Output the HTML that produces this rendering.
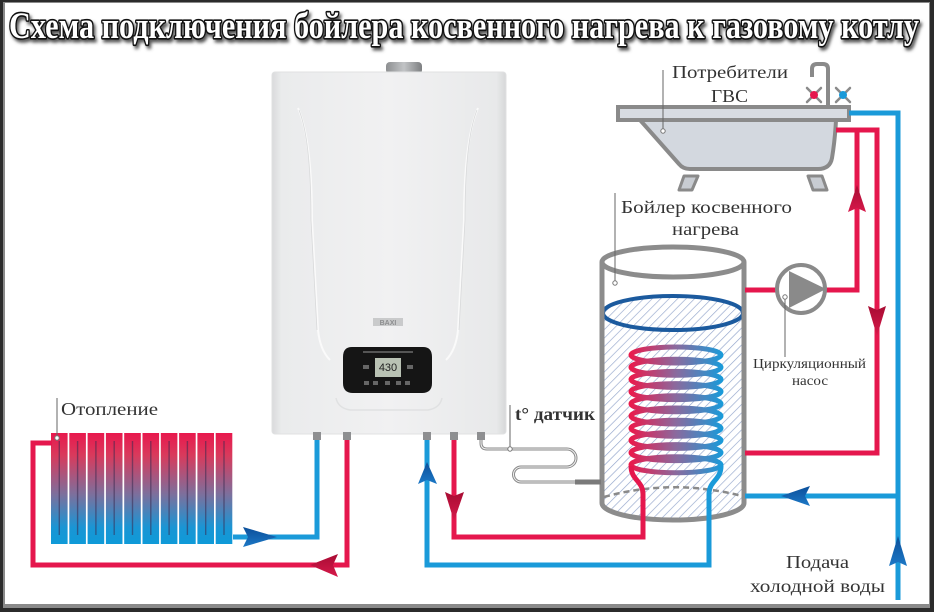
<!DOCTYPE html>
<html><head><meta charset="utf-8">
<style>
html,body{margin:0;padding:0;background:#2b2b2b;}
body{width:934px;height:612px;overflow:hidden;position:relative;}
svg{position:absolute;left:0;top:0;}
</style></head>
<body>
<svg width="934" height="612" viewBox="0 0 934 612" xmlns="http://www.w3.org/2000/svg">
<defs>
  <linearGradient id="rad" x1="0" y1="433" x2="0" y2="544" gradientUnits="userSpaceOnUse">
    <stop offset="0" stop-color="#e8184d"/>
    <stop offset="0.2" stop-color="#d93a5c"/>
    <stop offset="0.55" stop-color="#7d6f9c"/>
    <stop offset="0.85" stop-color="#1a95d4"/>
    <stop offset="1" stop-color="#0f9ad8"/>
  </linearGradient>
  <linearGradient id="coil" x1="630" y1="0" x2="722" y2="0" gradientUnits="userSpaceOnUse">
    <stop offset="0" stop-color="#ea1a4c"/>
    <stop offset="0.5" stop-color="#8a6a9e"/>
    <stop offset="1" stop-color="#1a9ad9"/>
  </linearGradient>
  <linearGradient id="boil" x1="0" y1="0" x2="1" y2="0">
    <stop offset="0" stop-color="#d9dadb"/>
    <stop offset="0.04" stop-color="#eaebec"/>
    <stop offset="0.5" stop-color="#f1f1f2"/>
    <stop offset="0.96" stop-color="#e8e9ea"/>
    <stop offset="1" stop-color="#d6d7d8"/>
  </linearGradient>
  <linearGradient id="chim" x1="0" y1="0" x2="1" y2="0">
    <stop offset="0" stop-color="#8d8f91"/>
    <stop offset="0.5" stop-color="#c2c4c6"/>
    <stop offset="1" stop-color="#7d7f81"/>
  </linearGradient>
  <linearGradient id="ab" x1="0" y1="0" x2="0" y2="1">
    <stop offset="0" stop-color="#0b4f9a"/>
    <stop offset="1" stop-color="#1c78c6"/>
  </linearGradient>
  <linearGradient id="ar" x1="0" y1="0" x2="0" y2="1">
    <stop offset="0" stop-color="#a80c33"/>
    <stop offset="1" stop-color="#d6194a"/>
  </linearGradient>
  <pattern id="hatch" width="6" height="6" patternUnits="userSpaceOnUse" patternTransform="rotate(45)">
    <rect width="6" height="6" fill="#ffffff"/>
    <line x1="0" y1="0" x2="0" y2="6" stroke="#93a5cc" stroke-width="1.3"/>
  </pattern>
  <filter id="blur" x="-5%" y="-30%" width="110%" height="160%"><feGaussianBlur stdDeviation="1.6"/></filter>
</defs>

<!-- frame -->
<rect x="0" y="0" width="934" height="612" fill="#2b2b2b"/>
<rect x="3" y="2" width="927" height="606" fill="#8a8a8a"/>
<rect x="5" y="3" width="924" height="601" fill="#ffffff"/>

<!-- title -->
<text x="11" y="41" textLength="910" lengthAdjust="spacingAndGlyphs" font-family="Liberation Serif, serif" font-weight="bold" font-size="37" fill="#555" stroke="#555" stroke-width="3" filter="url(#blur)">Схема подключения бойлера косвенного нагрева к газовому котлу</text>
<text x="9" y="38" textLength="910" lengthAdjust="spacingAndGlyphs" font-family="Liberation Serif, serif" font-weight="bold" font-size="37" fill="#ffffff" stroke="#111" stroke-width="3.2" paint-order="stroke" stroke-linejoin="round">Схема подключения бойлера косвенного нагрева к газовому котлу</text>

<!-- boiler -->
<rect x="386" y="62" width="36" height="12" rx="4" fill="url(#chim)"/>
<rect x="272" y="72" width="234" height="362" rx="3" fill="url(#boil)" stroke="#e0e1e2" stroke-width="1"/>
<path d="M298,108 Q312,140 312,220 L318,330 Q320,350 330,360" fill="none" stroke="#fafafa" stroke-width="2"/>
<path d="M299,110 Q311,140 311,220 L317,330" fill="none" stroke="#d8d9da" stroke-width="0.8"/>
<path d="M478,108 Q464,140 464,220 L458,330 Q456,350 446,360" fill="none" stroke="#fafafa" stroke-width="2"/>
<path d="M477,110 Q465,140 465,220 L459,330" fill="none" stroke="#d8d9da" stroke-width="0.8"/>
<path d="M336,398 Q338,408 350,410 L428,410 Q440,408 442,398" fill="none" stroke="#e0e1e2" stroke-width="1.5"/>
<rect x="373" y="318" width="30" height="8" fill="#c9cacb"/>
<text x="388" y="325" text-anchor="middle" font-family="Liberation Sans, sans-serif" font-size="7" font-weight="bold" fill="#8d8e90">BAXI</text>
<path d="M352,347 L423,347 Q432,347 432,357 L432,383 Q432,393 422,393 L353,393 Q343,393 343,383 L343,357 Q343,347 352,347 Z" fill="#151515"/>
<rect x="363" y="351" width="50" height="2" fill="#555"/>
<rect x="375" y="358" width="26" height="19" fill="#b9c2b4"/>
<text x="388" y="371" text-anchor="middle" font-family="Liberation Sans, sans-serif" font-size="11" fill="#222">430</text>
<rect x="363" y="365" width="6" height="4" fill="#666"/>
<rect x="407" y="365" width="6" height="4" fill="#666"/>
<rect x="364" y="381" width="5" height="4" fill="#666"/>
<rect x="373" y="381" width="5" height="4" fill="#666"/>
<rect x="385" y="381" width="5" height="4" fill="#666"/>
<rect x="396" y="381" width="5" height="4" fill="#666"/>
<rect x="405" y="381" width="5" height="4" fill="#666"/>
<!-- fittings -->
<g fill="#8e8f91">
<rect x="313" y="432" width="8" height="8"/>
<rect x="343" y="432" width="8" height="8"/>
<rect x="423" y="432" width="8" height="8"/>
<rect x="450" y="432" width="8" height="8"/>
<rect x="477" y="432" width="8" height="8"/>
</g>

<!-- radiator -->
<g>
<rect x="51" y="433" width="16.6" height="111" fill="url(#rad)"/>
<rect x="69.3" y="433" width="16.6" height="111" fill="url(#rad)"/>
<rect x="87.6" y="433" width="16.6" height="111" fill="url(#rad)"/>
<rect x="105.9" y="433" width="16.6" height="111" fill="url(#rad)"/>
<rect x="124.2" y="433" width="16.6" height="111" fill="url(#rad)"/>
<rect x="142.5" y="433" width="16.6" height="111" fill="url(#rad)"/>
<rect x="160.8" y="433" width="16.6" height="111" fill="url(#rad)"/>
<rect x="179.1" y="433" width="16.6" height="111" fill="url(#rad)"/>
<rect x="197.4" y="433" width="16.6" height="111" fill="url(#rad)"/>
<rect x="215.7" y="433" width="16.6" height="111" fill="url(#rad)"/>
</g>
<g stroke="#3a2a50" stroke-opacity="0.55" stroke-width="1.4">
<line x1="59.3" y1="441" x2="59.3" y2="535"/>
<line x1="77.6" y1="441" x2="77.6" y2="535"/>
<line x1="95.9" y1="441" x2="95.9" y2="535"/>
<line x1="114.2" y1="441" x2="114.2" y2="535"/>
<line x1="132.5" y1="441" x2="132.5" y2="535"/>
<line x1="150.8" y1="441" x2="150.8" y2="535"/>
<line x1="169.1" y1="441" x2="169.1" y2="535"/>
<line x1="187.4" y1="441" x2="187.4" y2="535"/>
<line x1="205.7" y1="441" x2="205.7" y2="535"/>
<line x1="224" y1="441" x2="224" y2="535"/>
</g>

<!-- heating pipes -->
<path d="M233,537 L317,537 L317,440" fill="none" stroke="#1a9ad9" stroke-width="5"/>
<path d="M347,440 L347,565 L33,565 L33,443 L52,443" fill="none" stroke="#e5174d" stroke-width="5"/>
<polygon points="243,527 277,537 243,547 248,537" fill="url(#ab)"/>
<polygon points="338,554 310,565 338,577 333,565" fill="url(#ar)"/>

<!-- Отопление label -->
<line x1="57" y1="398" x2="57" y2="437" stroke="#666" stroke-width="1"/>
<circle cx="57" cy="438" r="2.2" fill="#fff" stroke="#777" stroke-width="1"/>
<text x="61" y="415" textLength="97" lengthAdjust="spacingAndGlyphs" font-family="Liberation Serif, serif" font-size="18" fill="#333">Отопление</text>

<!-- tank hatch -->
<path d="M603,313 A70,18 0 0 1 743,313 L743,503 A70,17 0 0 1 603,503 Z" fill="url(#hatch)"/>
<!-- dashed bottom back arc -->
<path d="M604,497 Q672,478 742,496" fill="none" stroke="#8a8a8a" stroke-width="2.5" stroke-dasharray="6,4"/>
<!-- blue water surface -->
<ellipse cx="673" cy="313" rx="70" ry="17" fill="none" stroke="#1b5a9e" stroke-width="4"/>

<!-- coil -->
<g fill="none" stroke="url(#coil)" stroke-width="5">
<ellipse cx="676" cy="355" rx="45" ry="8"/>
<ellipse cx="676" cy="367.2" rx="45" ry="8"/>
<ellipse cx="676" cy="379.4" rx="45" ry="8"/>
<ellipse cx="676" cy="391.6" rx="45" ry="8"/>
<ellipse cx="676" cy="403.8" rx="45" ry="8"/>
<ellipse cx="676" cy="416" rx="45" ry="8"/>
<ellipse cx="676" cy="428.2" rx="45" ry="8"/>
<ellipse cx="676" cy="440.4" rx="45" ry="8"/>
<ellipse cx="676" cy="452.6" rx="45" ry="8"/>
<ellipse cx="676" cy="464.8" rx="45" ry="8"/>
</g>

<!-- tank outline -->
<g fill="none" stroke="#8c8c8c" stroke-width="5">
<ellipse cx="673" cy="262" rx="71" ry="15"/>
<path d="M602,262 L602,503 A71,17 0 0 0 744,503 L744,262"/>
</g>

<!-- coil legs & boiler loop -->
<path d="M631,466 C631,480 643,481 643,494 L643,537 L454,537 L454,440" fill="none" stroke="#e5174d" stroke-width="5"/>
<path d="M721,466 C721,480 709,481 709,494 L709,565 L427,565 L427,440" fill="none" stroke="#1a9ad9" stroke-width="5"/>
<polygon points="418,484 427,462 437,484 427,480" fill="url(#ab)"/>
<polygon points="445,492 454,521 464,492 454,496" fill="url(#ar)"/>

<!-- sensor -->
<path d="M481,440 L481,443 Q481,449 487,449 L567,449 A9,9 0 0 1 567,467 L521,467 A7.5,7.5 0 0 0 521,482 L576,482" fill="none" stroke="#8a8a8a" stroke-width="3"/>
<path d="M481,440 L481,443 Q481,449 487,449 L567,449 A9,9 0 0 1 567,467 L521,467 A7.5,7.5 0 0 0 521,482 L576,482" fill="none" stroke="#f2f2f2" stroke-width="1"/>
<line x1="575" y1="482" x2="601" y2="482" stroke="#7a7a7a" stroke-width="5"/>
<line x1="510" y1="405" x2="510" y2="448" stroke="#666" stroke-width="1"/>
<circle cx="510" cy="449" r="2.2" fill="#fff" stroke="#777" stroke-width="1"/>
<text x="515" y="420" font-family="Liberation Serif, serif" font-size="18" font-weight="bold" fill="#333" textLength="80" lengthAdjust="spacingAndGlyphs">t° датчик</text>

<!-- Бойлер label -->
<line x1="615" y1="193" x2="615" y2="281" stroke="#666" stroke-width="1"/>
<circle cx="615" cy="283" r="2.2" fill="#fff" stroke="#777" stroke-width="1"/>
<text x="621" y="213" textLength="171" lengthAdjust="spacingAndGlyphs" font-family="Liberation Serif, serif" font-size="18" fill="#333">Бойлер косвенного</text>
<text x="672" y="235" textLength="67" lengthAdjust="spacingAndGlyphs" font-family="Liberation Serif, serif" font-size="18" fill="#333">нагрева</text>

<!-- bathtub -->
<path d="M828,108 L828,69 Q828,64 823,64 L817,64 Q812,64 812,69 L812,77" fill="none" stroke="#8a8a8a" stroke-width="4"/>
<g stroke="#8a8a8a" stroke-width="2.5" stroke-linecap="round">
<line x1="807" y1="88" x2="821" y2="102"/><line x1="821" y1="88" x2="807" y2="102"/>
<line x1="836" y1="88" x2="850" y2="102"/><line x1="850" y1="88" x2="836" y2="102"/>
</g>
<circle cx="814" cy="95" r="4" fill="#e5174d"/>
<circle cx="843" cy="95" r="4" fill="#1a9ad9"/>
<path d="M640,120 L679,164 Q683,169 690,169 L818,169 Q830,169 832,158 Q835,140 836,120 Z" fill="#d3d8df" stroke="#8a8a8a" stroke-width="4" stroke-linejoin="round"/>
<rect x="618" y="107" width="231" height="13" fill="#d8dce2" stroke="#8a8a8a" stroke-width="4"/>
<polygon points="684,176 698,176 692,190 679,190" fill="#c8ccd2" stroke="#8a8a8a" stroke-width="3" stroke-linejoin="round"/>
<polygon points="808,176 822,176 827,190 813,190" fill="#c8ccd2" stroke="#8a8a8a" stroke-width="3" stroke-linejoin="round"/>
<line x1="663" y1="70" x2="663" y2="130" stroke="#666" stroke-width="1"/>
<circle cx="663" cy="131" r="2.2" fill="#fff" stroke="#777" stroke-width="1"/>
<text x="672" y="78" textLength="116" lengthAdjust="spacingAndGlyphs" font-family="Liberation Serif, serif" font-size="18" fill="#333">Потребители</text>
<text x="711" y="102" textLength="37" lengthAdjust="spacingAndGlyphs" font-family="Liberation Serif, serif" font-size="18" fill="#333">ГВС</text>

<!-- DHW circuit -->
<path d="M849,113 L898,113 L898,600" fill="none" stroke="#1a9ad9" stroke-width="5"/>
<path d="M898,496 L745,496" fill="none" stroke="#1a9ad9" stroke-width="5"/>
<path d="M836,130 L877,130 L877,453 L745,453" fill="none" stroke="#e5174d" stroke-width="5"/>
<path d="M857,130 L857,290 L826,290" fill="none" stroke="#e5174d" stroke-width="5"/>
<path d="M745,290 L777,290" fill="none" stroke="#e5174d" stroke-width="5"/>
<polygon points="848,212 857,185 866,212 857,208" fill="url(#ar)"/>
<polygon points="868,306 877,336 886,306 877,310" fill="url(#ar)"/>
<polygon points="810,486 781,496 810,506 805,496" fill="url(#ab)"/>
<polygon points="889,566 898,536 907,566 898,562" fill="url(#ab)"/>

<!-- pump -->
<circle cx="801" cy="289" r="24" fill="#fff" stroke="#8a8a8a" stroke-width="4"/>
<polygon points="789,271 826,289 789,308" fill="#8a8a8a"/>
<line x1="785" y1="298" x2="785" y2="357" stroke="#666" stroke-width="1"/>
<circle cx="785" cy="297" r="2.2" fill="#fff" stroke="#777" stroke-width="1"/>
<text x="753" y="368" textLength="113" lengthAdjust="spacingAndGlyphs" font-family="Liberation Serif, serif" font-size="14" fill="#333">Циркуляционный</text>
<text x="792" y="385" textLength="36" lengthAdjust="spacingAndGlyphs" font-family="Liberation Serif, serif" font-size="14" fill="#333">насос</text>

<!-- cold water label -->
<text x="786" y="568" textLength="63" lengthAdjust="spacingAndGlyphs" font-family="Liberation Serif, serif" font-size="18" fill="#333">Подача</text>
<text x="750" y="592" textLength="135" lengthAdjust="spacingAndGlyphs" font-family="Liberation Serif, serif" font-size="18" fill="#333">холодной воды</text>
</svg>
</body></html>
